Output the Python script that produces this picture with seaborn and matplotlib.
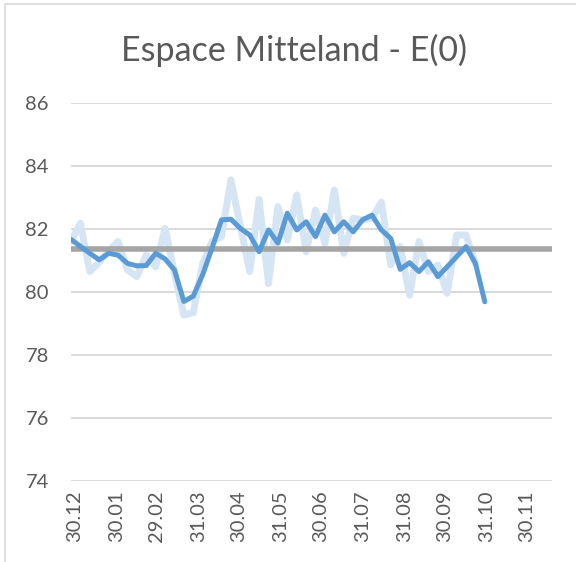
import numpy as np
import pandas as pd
import matplotlib
matplotlib.use("Agg")
import matplotlib.pyplot as plt
from matplotlib.lines import Line2D
import seaborn as sns

# weekly values
weeks = pd.date_range("2019-12-27", periods=45, freq="7D")

weekly = [81.6, 82.18, 80.65, 80.95, 81.3, 81.6, 80.7, 80.49, 81.17, 80.8,
          82.02, 80.6, 79.27, 79.34, 80.9, 81.6, 81.76, 83.56, 82.1, 80.65,
          82.94, 80.27, 82.71, 81.65, 83.08, 81.28, 82.6, 81.54, 83.24, 81.23,
          82.34, 82.29, 82.34, 82.85, 80.86, 81.44, 79.9, 81.6, 80.65, 80.85,
          79.96, 81.81, 81.81, 80.9, np.nan]

smoothed = [81.67, 81.45, 81.23, 81.02, 81.23, 81.17, 80.91, 80.83, 80.84, 81.23,
            81.05, 80.7, 79.7, 79.87, 80.55, 81.4, 82.29, 82.31, 82.02, 81.81,
            81.28, 81.97, 81.55, 82.5, 81.97, 82.23, 81.76, 82.44, 81.91, 82.23,
            81.91, 82.29, 82.44, 81.97, 81.7, 80.72, 80.93, 80.65, 80.96, 80.49,
            80.8, 81.12, 81.44, 80.91, 79.69]

mean_level = 81.38

tick_dates = pd.to_datetime(["2019-12-30", "2020-01-30", "2020-02-29", "2020-03-31",
                             "2020-04-30", "2020-05-31", "2020-06-30", "2020-07-31",
                             "2020-08-31", "2020-09-30", "2020-10-31", "2020-11-30"])
tick_labels = [d.strftime("%d.%m") for d in tick_dates]

df = pd.DataFrame({"date": weeks, "weekly": weekly, "smoothed": smoothed})

sns.set_style("white")
plt.rcParams["font.family"] = ["Lato", "DejaVu Sans"]

fig = plt.figure(figsize=(5.76, 5.62), dpi=100)
ax = fig.add_axes([71 / 576, 1 - 481 / 562, 481 / 576, 378 / 562])

ax.axhline(mean_level, color="#A5A5A5", lw=4.0, zorder=3, solid_capstyle="round")
sns.lineplot(data=df, x="date", y="weekly", ax=ax, color="#D5E5F4", lw=5.0,
             zorder=2, solid_capstyle="round")
sns.lineplot(data=df, x="date", y="smoothed", ax=ax, color="#5B9BD5", lw=3.6,
             zorder=4, solid_capstyle="round", solid_joinstyle="round")

ax.set_ylim(74, 86)
ax.set_yticks(np.arange(74, 87, 2))
ax.set_xlim(pd.Timestamp("2019-12-27"), pd.Timestamp("2020-12-19"))
ax.set_xticks(tick_dates)
ax.set_xticklabels(tick_labels, rotation=90)
ax.grid(axis="y", color="#D9D9D9", lw=1.4)
ax.set_axisbelow(True)
for s in ax.spines.values():
    s.set_visible(False)
ax.tick_params(axis="both", length=0, labelsize=14.5, labelcolor="#595959")
ax.tick_params(axis="y", pad=16)
ax.tick_params(axis="x", pad=7)
ax.set_xlabel("")
ax.set_ylabel("")

fig.text(0.51, 1 - 50 / 562, "Espace Mitteland - E(0)", ha="center", va="center",
         fontsize=24.5, color="#595959")

# chart frame (left and top edge visible)
fig.add_artist(Line2D([5 / 576, 5 / 576], [0, 1 - 4 / 562], color="#D9D9D9", lw=1.2))
fig.add_artist(Line2D([5 / 576, 1], [1 - 4 / 562, 1 - 4 / 562], color="#D9D9D9", lw=1.2))

fig.savefig("out.png", dpi=100)
